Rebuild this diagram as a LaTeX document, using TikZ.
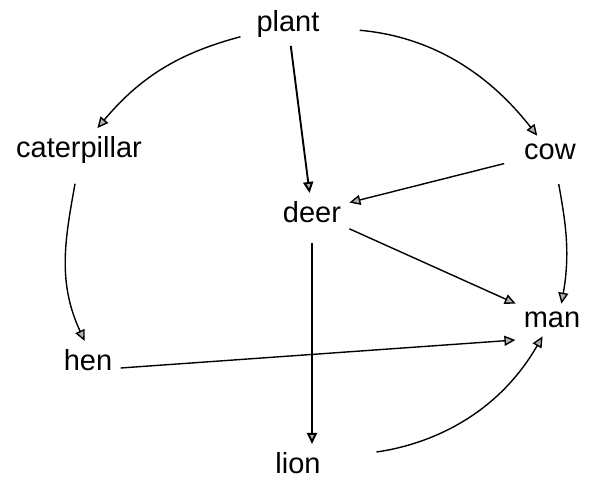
\documentclass[tikz,border=0pt]{standalone}
\usepackage{fontspec}
\setmainfont{Liberation Sans}
\usetikzlibrary{arrows.meta}

\begin{document}
\begin{tikzpicture}[
    x=0.5pt, y=0.5pt,
    font=\fontsize{14.5}{17}\selectfont,
    >={Triangle[length=5.5pt,width=5pt,fill=gray!60]},
    animal/.style={inner sep=4pt},
    link/.style={->, line width=0.7pt, black},
    heavy/.style={link, line width=0.95pt}
]
\useasboundingbox (0,0) rectangle (598,478);

% Organisms
\node[animal] (plant) at (288,454) {plant};
\node[animal] (cat)   at (79,328)  {caterpillar};
\node[animal] (cow)   at (550,326) {cow};
\node[animal] (deer)  at (312,266) {deer};
\node[animal] (man)   at (552,158) {man};
\node[animal] (hen)   at (88,118)  {hen};
\node[animal] (lion)  at (298,15)  {lion};

% Connections
\draw[link, shorten <=4pt] (plant) to[out=195, in=50] (cat);
\draw[link, shorten <=16pt] (plant) to[out=-5, in=128] (cow);
\draw[heavy] (plant) -- (deer);

\draw[link, shorten <=6pt] (cat.-95) to[out=-100, in=115] (hen.100);
\draw[link, shorten <=8pt] (cow.-70) to[out=-80, in=80] (man.60);
\draw[link, shorten <=6pt] (cow) -- (deer);

\draw[link] (deer) -- (man);
\draw[heavy, shorten <=6pt] (deer.south) -- (deer.south |- lion.north);

\draw[link] ([yshift=-4pt]hen.east) -- ([yshift=-10pt]man.west);
\draw[link, shorten <=24pt] (lion) to[out=8, in=240] (man);

\end{tikzpicture}
\end{document}
